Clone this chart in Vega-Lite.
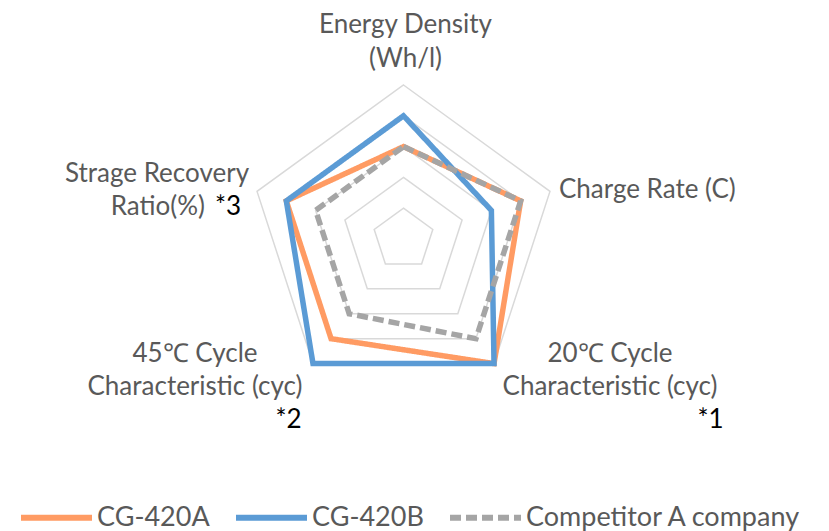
{
  "$schema": "https://vega.github.io/schema/vega-lite/v6.json",
  "width": 829,
  "height": 531,
  "autosize": {"type": "none"},
  "padding": 0,
  "background": "white",
  "config": {
    "view": {"stroke": null},
    "text": {"font": "Lato", "fontSize": 26, "color": "#595959", "baseline": "alphabetic", "lineBreak": "\n", "lineHeight": 33.5},
    "legend": {"padding": 0}
  },
  "datasets": {
    "scores": [
      {"series": "CG-420A", "axis": "Energy Density (Wh/l)", "idx": 0, "value": 3},
      {"series": "CG-420A", "axis": "Charge Rate (C)", "idx": 1, "value": 4},
      {"series": "CG-420A", "axis": "20℃ Cycle Characteristic (cyc)", "idx": 2, "value": 5},
      {"series": "CG-420A", "axis": "45℃ Cycle Characteristic (cyc)", "idx": 3, "value": 4},
      {"series": "CG-420A", "axis": "Strage Recovery Ratio(%)", "idx": 4, "value": 4},
      {"series": "CG-420B", "axis": "Energy Density (Wh/l)", "idx": 0, "value": 4},
      {"series": "CG-420B", "axis": "Charge Rate (C)", "idx": 1, "value": 3},
      {"series": "CG-420B", "axis": "20℃ Cycle Characteristic (cyc)", "idx": 2, "value": 5},
      {"series": "CG-420B", "axis": "45℃ Cycle Characteristic (cyc)", "idx": 3, "value": 5},
      {"series": "CG-420B", "axis": "Strage Recovery Ratio(%)", "idx": 4, "value": 4},
      {"series": "Competitor A company", "axis": "Energy Density (Wh/l)", "idx": 0, "value": 3},
      {"series": "Competitor A company", "axis": "Charge Rate (C)", "idx": 1, "value": 4},
      {"series": "Competitor A company", "axis": "20℃ Cycle Characteristic (cyc)", "idx": 2, "value": 4},
      {"series": "Competitor A company", "axis": "45℃ Cycle Characteristic (cyc)", "idx": 3, "value": 3},
      {"series": "Competitor A company", "axis": "Strage Recovery Ratio(%)", "idx": 4, "value": 3}
    ],
    "grid": [
      {"level": 1, "idx": 0}, {"level": 1, "idx": 1}, {"level": 1, "idx": 2}, {"level": 1, "idx": 3}, {"level": 1, "idx": 4},
      {"level": 2, "idx": 0}, {"level": 2, "idx": 1}, {"level": 2, "idx": 2}, {"level": 2, "idx": 3}, {"level": 2, "idx": 4},
      {"level": 3, "idx": 0}, {"level": 3, "idx": 1}, {"level": 3, "idx": 2}, {"level": 3, "idx": 3}, {"level": 3, "idx": 4},
      {"level": 4, "idx": 0}, {"level": 4, "idx": 1}, {"level": 4, "idx": 2}, {"level": 4, "idx": 3}, {"level": 4, "idx": 4},
      {"level": 5, "idx": 0}, {"level": 5, "idx": 1}, {"level": 5, "idx": 2}, {"level": 5, "idx": 3}, {"level": 5, "idx": 4}
    ],
    "labels": [
      {"key": "energy", "idx": 0, "text": "Energy Density\n(Wh/l)"},
      {"key": "charge", "idx": 1, "text": "Charge Rate (C)"},
      {"key": "c20", "idx": 2, "text": "20℃ Cycle\nCharacteristic (cyc)"},
      {"key": "c45", "idx": 3, "text": "45℃ Cycle\nCharacteristic (cyc)"},
      {"key": "store1", "idx": 4, "text": "Strage Recovery"},
      {"key": "store2", "idx": 4, "text": "Ratio(%)"},
      {"key": "n1", "idx": 2, "text": "*1"},
      {"key": "n2", "idx": 3, "text": "*2"},
      {"key": "n3", "idx": 4, "text": "*3"}
    ]
  },
  "encoding": {
    "x": {"field": "x", "type": "quantitative", "scale": {"domain": [-13.1006, 13.8149], "nice": false, "zero": false}, "axis": null},
    "y": {"field": "y", "type": "quantitative", "scale": {"domain": [-9.4805, 7.7597], "nice": false, "zero": false}, "axis": null}
  },
  "layer": [
    {
      "data": {"name": "grid"},
      "transform": [
        {"calculate": "datum.level * sin(datum.idx * 2 * PI / 5)", "as": "x"},
        {"calculate": "datum.level * cos(datum.idx * 2 * PI / 5)", "as": "y"}
      ],
      "mark": {"type": "line", "interpolate": "linear-closed", "color": "#D9D9D9", "strokeWidth": 1.5},
      "encoding": {
        "detail": {"field": "level", "type": "nominal"},
        "order": {"field": "idx", "type": "quantitative"}
      }
    },
    {
      "data": {"name": "scores"},
      "transform": [
        {"calculate": "datum.value * sin(datum.idx * 2 * PI / 5)", "as": "x"},
        {"calculate": "datum.value * cos(datum.idx * 2 * PI / 5)", "as": "y"}
      ],
      "mark": {"type": "line", "interpolate": "linear-closed", "strokeWidth": 5.5, "strokeJoin": "miter"},
      "encoding": {
        "color": {
          "field": "series", "type": "nominal",
          "scale": {"domain": ["CG-420A", "CG-420B", "Competitor A company"], "range": ["#FF9B63", "#5B9BD5", "#A5A5A5"]},
          "legend": {
            "title": null, "orient": "none", "direction": "horizontal", "legendX": 18, "legendY": 479,
            "symbolType": "stroke", "symbolSize": 5041, "symbolStrokeWidth": 6,
            "labelFont": "Lato", "labelFontSize": 27, "labelColor": "#595959", "labelOffset": 2,
            "columnPadding": 14, "labelLimit": 400
          }
        },
        "strokeDash": {
          "field": "series", "type": "nominal",
          "scale": {"domain": ["CG-420A", "CG-420B", "Competitor A company"], "range": [[1, 0], [1, 0], [11, 5]]},
          "legend": {
            "title": null, "orient": "none", "direction": "horizontal", "legendX": 18, "legendY": 479,
            "symbolType": "stroke", "symbolSize": 5041, "symbolStrokeWidth": 6,
            "labelFont": "Lato", "labelFontSize": 27, "labelColor": "#595959", "labelOffset": 2,
            "columnPadding": 14, "labelLimit": 400
          }
        },
        "order": {"field": "idx", "type": "quantitative"}
      }
    },
    {
      "data": {"name": "labels"},
      "transform": [
        {"filter": "datum.key == 'energy'"},
        {"calculate": "5 * sin(datum.idx * 2 * PI / 5)", "as": "x"},
        {"calculate": "5 * cos(datum.idx * 2 * PI / 5)", "as": "y"}
      ],
      "mark": {"type": "text", "align": "center", "dx": 2, "dy": -51.5},
      "encoding": {"text": {"field": "text", "type": "nominal"}}
    },
    {
      "data": {"name": "labels"},
      "transform": [
        {"filter": "datum.key == 'charge'"},
        {"calculate": "5 * sin(datum.idx * 2 * PI / 5)", "as": "x"},
        {"calculate": "5 * cos(datum.idx * 2 * PI / 5)", "as": "y"}
      ],
      "mark": {"type": "text", "align": "left", "dx": 9, "dy": 6.6},
      "encoding": {"text": {"field": "text", "type": "nominal"}}
    },
    {
      "data": {"name": "labels"},
      "transform": [
        {"filter": "datum.key == 'c20'"},
        {"calculate": "5 * sin(datum.idx * 2 * PI / 5)", "as": "x"},
        {"calculate": "5 * cos(datum.idx * 2 * PI / 5)", "as": "y"}
      ],
      "mark": {"type": "text", "align": "center", "dx": 116, "dy": -1.6},
      "encoding": {"text": {"field": "text", "type": "nominal"}}
    },
    {
      "data": {"name": "labels"},
      "transform": [
        {"filter": "datum.key == 'c45'"},
        {"calculate": "5 * sin(datum.idx * 2 * PI / 5)", "as": "x"},
        {"calculate": "5 * cos(datum.idx * 2 * PI / 5)", "as": "y"}
      ],
      "mark": {"type": "text", "align": "center", "dx": -118, "dy": -1.6},
      "encoding": {"text": {"field": "text", "type": "nominal"}}
    },
    {
      "data": {"name": "labels"},
      "transform": [
        {"filter": "datum.key == 'store1'"},
        {"calculate": "5 * sin(datum.idx * 2 * PI / 5)", "as": "x"},
        {"calculate": "5 * cos(datum.idx * 2 * PI / 5)", "as": "y"}
      ],
      "mark": {"type": "text", "align": "right", "dx": -8, "dy": -9.4},
      "encoding": {"text": {"field": "text", "type": "nominal"}}
    },
    {
      "data": {"name": "labels"},
      "transform": [
        {"filter": "datum.key == 'store2'"},
        {"calculate": "5 * sin(datum.idx * 2 * PI / 5)", "as": "x"},
        {"calculate": "5 * cos(datum.idx * 2 * PI / 5)", "as": "y"}
      ],
      "mark": {"type": "text", "align": "right", "dx": -52, "dy": 23.6},
      "encoding": {"text": {"field": "text", "type": "nominal"}}
    },
    {
      "data": {"name": "labels"},
      "transform": [
        {"filter": "datum.key == 'n1'"},
        {"calculate": "5 * sin(datum.idx * 2 * PI / 5)", "as": "x"},
        {"calculate": "5 * cos(datum.idx * 2 * PI / 5)", "as": "y"}
      ],
      "mark": {"type": "text", "align": "center", "dx": 216.5, "dy": 64.4, "color": "#000000"},
      "encoding": {"text": {"field": "text", "type": "nominal"}}
    },
    {
      "data": {"name": "labels"},
      "transform": [
        {"filter": "datum.key == 'n2'"},
        {"calculate": "5 * sin(datum.idx * 2 * PI / 5)", "as": "x"},
        {"calculate": "5 * cos(datum.idx * 2 * PI / 5)", "as": "y"}
      ],
      "mark": {"type": "text", "align": "center", "dx": -24.5, "dy": 64.4, "color": "#000000"},
      "encoding": {"text": {"field": "text", "type": "nominal"}}
    },
    {
      "data": {"name": "labels"},
      "transform": [
        {"filter": "datum.key == 'n3'"},
        {"calculate": "5 * sin(datum.idx * 2 * PI / 5)", "as": "x"},
        {"calculate": "5 * cos(datum.idx * 2 * PI / 5)", "as": "y"}
      ],
      "mark": {"type": "text", "align": "left", "dx": -42, "dy": 23.6, "color": "#000000"},
      "encoding": {"text": {"field": "text", "type": "nominal"}}
    }
  ]
}
